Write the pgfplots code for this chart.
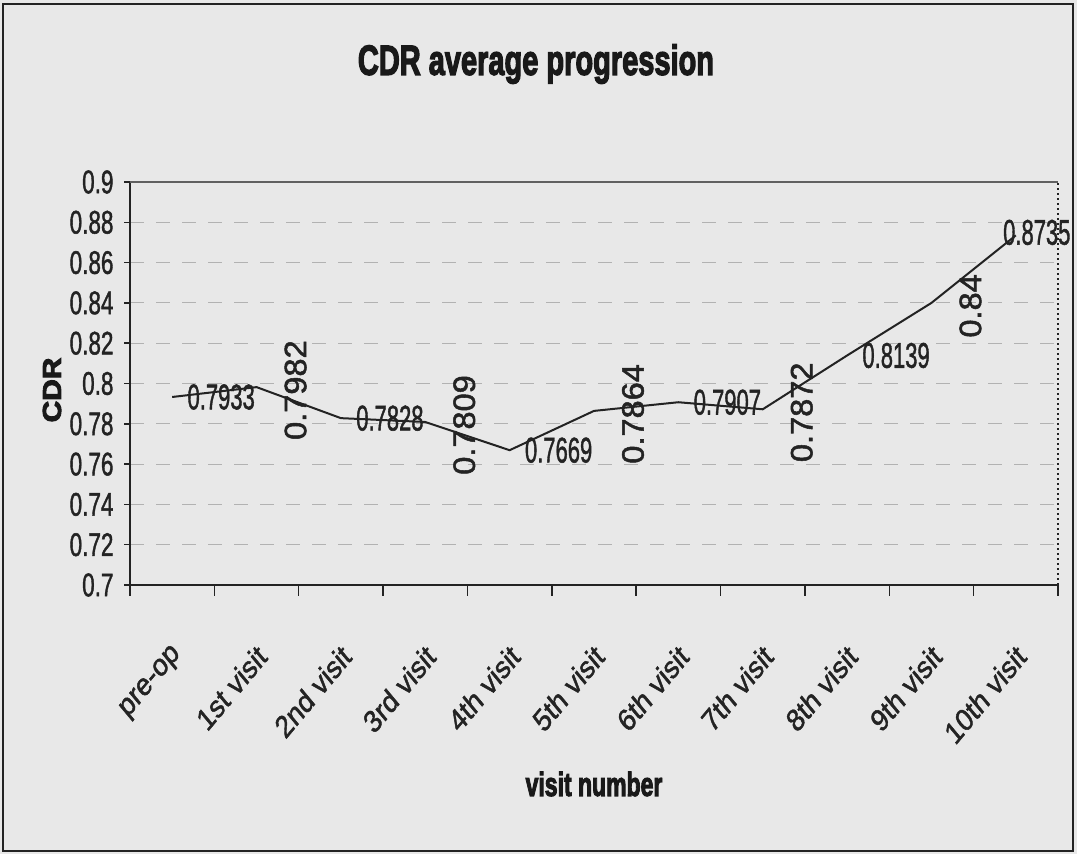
\documentclass[border=0pt]{standalone}
\usepackage{fontspec}
\setmainfont{Liberation Sans}[FakeBold=1.6, BoldFeatures={FakeBold=3.5}]
\usepackage{pgfplots}
\pgfplotsset{compat=1.18}
\definecolor{bg}{RGB}{232,232,232}
\definecolor{ink}{RGB}{35,35,35}
\begin{document}
\begin{tikzpicture}[x=1pt,y=1pt]
\fill[bg] (0,0) rectangle (1077,854);
\path[use as bounding box] (0,0) rectangle (1077,854);
\draw[ink, line width=2pt] (3,3) rectangle (1073,850);
\begin{axis}[
  at={(130pt,269pt)}, anchor=south west,
  scale only axis, width=928pt, height=403pt,
  clip=false,
  xmin=-0.5, xmax=10.5, ymin=0.7, ymax=0.9,
  axis x line*=bottom, axis y line*=left,
  axis line style={line width=1.8pt, ink},
  /pgf/number format/assume math mode=true,
  ytick={0.7,0.72,0.74,0.76,0.78,0.8,0.82,0.84,0.86,0.88,0.9},
  yticklabels={0.7,0.72,0.74,0.76,0.78,0.8,0.82,0.84,0.86,0.88,0.9},
  xtick={0,...,10},
  xticklabels={pre-op,1st visit,2nd visit,3rd visit,4th visit,5th visit,6th visit,7th visit,8th visit,9th visit,10th visit},
  minor xtick={-0.5,0.5,...,10.5},
  tick align=outside,
  major tick length=6pt, minor tick length=11pt,
  every major x tick/.append style={draw=none},
  every tick/.append style={line width=1.5pt, ink},
  ymajorgrids,
  grid style={gray!60, line width=0.8pt, dash pattern=on 14pt off 12pt},
  yticklabel style={font=\fontsize{22.5}{27}\selectfont, text=ink, xshift=-7pt, yscale=1.45, anchor=east},
  xticklabel style={font=\fontsize{26}{30}\selectfont, text=ink, anchor=east, xshift=8pt, yshift=-57pt, yscale=1.2, rotate=45},
]
\draw[gray!75!black, line width=1.2pt] (rel axis cs:0,1) -- (rel axis cs:1,1);
\draw[ink, line width=1.5pt, dash pattern=on 2pt off 3pt] (rel axis cs:1,0) -- (rel axis cs:1,1);
\addplot[ink, line width=2pt, mark=none] coordinates {
  (0,0.7933) (1,0.7982) (2,0.7828) (3,0.7809) (4,0.7669) (5,0.7864)
  (6,0.7907) (7,0.7872) (8,0.8139) (9,0.84) (10,0.8735)};
\addplot[draw=none, mark=none, nodes near coords, point meta=explicit symbolic,
  every node near coord/.append style={anchor=center, text=ink,
    font=\fontsize{22}{26}\selectfont, xshift=49pt, yscale=1.62}]
  coordinates {(0,0.7933) [0.7933] (2,0.7828) [0.7828] (4,0.7669) [0.7669]
               (6,0.7907) [0.7907] (8,0.8139) [0.8139]};
\addplot[draw=none, mark=none, nodes near coords, point meta=explicit symbolic,
  every node near coord/.append style={anchor=center, text=ink,
    font=\fontsize{22}{26}\selectfont, xshift=21pt, yshift=3pt, yscale=1.62}]
  coordinates {(10,0.8735) [0.8735]};
\addplot[draw=none, mark=none, nodes near coords, point meta=explicit symbolic,
  every node near coord/.append style={anchor=center, text=ink,
    font=\fontsize{31}{36}\selectfont, xshift=39pt, yshift=-3pt, yscale=1.05, rotate=90}]
  coordinates {(1,0.7982) [0.7982] (3,0.7809) [0.7809] (5,0.7864) [0.7864]
               (7,0.7872) [0.7872] (9,0.84) [0.84]};
\end{axis}
\node[text=black!90, font=\bfseries\fontsize{29}{34}\selectfont, yscale=1.45] at (536,790) {CDR average progression};
\node[text=black!90, font=\bfseries\fontsize{23}{27}\selectfont, yscale=1.45] at (594,70) {visit number};
\node[text=black!90, font=\bfseries\fontsize{26}{30}\selectfont, yscale=1.15, rotate=90] at (52,464) {CDR};
\end{tikzpicture}
\end{document}
